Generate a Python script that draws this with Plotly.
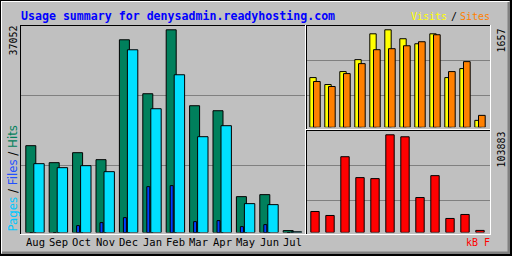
import plotly.graph_objects as go

# ---------------- data ----------------
months = ["Aug", "Sep", "Oct", "Nov", "Dec", "Jan", "Feb", "Mar", "Apr", "May", "Jun", "Jul"]
hits   = [15880, 12777, 14602, 13324, 35227, 25370, 37052, 23180, 22268, 6571, 6936, 365]
files  = [12594, 11864, 12229, 11134, 33402, 22633, 28839, 17522, 19530, 5293, 5111, 150]
pages  = [0, 0, 1278, 1825, 2738, 8396, 8579, 2008, 2190, 1095, 1460, 0]
visits = [845, 727, 947, 1150, 1589, 1657, 1505, 1420, 1589, 845, 998, 118]
sites  = [778, 693, 913, 1082, 1319, 1336, 1386, 1454, 1573, 947, 1116, 203]
kbytes = [22261, 18021, 80563, 58302, 57242, 103883, 101763, 37101, 60422, 14841, 19081, 2120]

title_text = "Usage summary for denysadmin.readyhosting.com"
max_hits_label = "37052"
max_visits_label = "1657"
max_kb_label = "103883"

# ---------------- colours ----------------
BG = "#C0C0C0"
DKGRAY = "#808080"
GRID = "#808080"
C_HITS = "#00805C"
C_FILES = "#00E0FF"
C_PAGES = "#0040FF"
C_VISITS = "#FFFF00"
C_SITES = "#FF8000"
C_KB = "#FF0000"

W, H = 512, 256
X = lambda px: px / W
Y = lambda py: 1 - py / H
idx = list(range(len(months)))

# ---------------- geometry (pixels) ----------------
main_step, main_c0, main_dom = 23.4, 35.0, (20.5, 305.0)
side_step, side_c0, side_dom = 15.0, 315.0, (306.5, 490.0)

def xrange_for(step, c0, dom):
    a = -(c0 - dom[0]) / step
    return [a, a + (dom[1] - dom[0]) / step]

def yrange_for(maxval, base_px, top_px, dom_top_px):
    return [0, maxval * (base_px - dom_top_px) / (base_px - top_px)]

main_base, main_top, main_dtop = 232.6, 29.8, 26.0
tr_base, tr_top, tr_dtop = 127.3, 29.8, 26.0
br_base, br_top, br_dtop = 232.4, 134.8, 131.0

fig = go.Figure()

def add_bar(vals, color, left_px, right_px, step, xa, ya):
    fig.add_trace(go.Bar(
        x=idx, y=vals, xaxis=xa, yaxis=ya,
        offset=left_px / step, width=(right_px - left_px) / step,
        marker=dict(color=color, line=dict(color="black", width=1)),
        hoverinfo="skip", showlegend=False))

# main panel: hits, files, pages
add_bar(hits, C_HITS, -9.2, 0.8, main_step, "x", "y")
add_bar(files, C_FILES, -1.2, 9.2, main_step, "x", "y")
add_bar(pages, C_PAGES, -5.2, -2.2, main_step, "x", "y")
# top right: visits, sites
add_bar(visits, C_VISITS, -5.2, 1.2, side_step, "x2", "y2")
add_bar(sites, C_SITES, -1.5, 5.2, side_step, "x2", "y2")
# bottom right: kbytes
add_bar(kbytes, C_KB, -4.2, 4.2, side_step, "x3", "y3")

hidden = dict(visible=False, fixedrange=True)

# ---------------- decoration shapes ----------------
shapes = []
def hline(row, x0, x1, color, layer="above"):
    shapes.append(dict(type="line", xref="paper", yref="paper", x0=X(x0), x1=X(x1),
                       y0=Y(row + 0.5), y1=Y(row + 0.5), line=dict(color=color, width=1), layer=layer))
def vline(col, y0, y1, color, layer="above"):
    shapes.append(dict(type="line", xref="paper", yref="paper", x0=X(col + 0.5), x1=X(col + 0.5),
                       y0=Y(y0), y1=Y(y1), line=dict(color=color, width=1), layer=layer))
def rect(x0, y0, x1, y1, color, layer="above"):
    shapes.append(dict(type="rect", xref="paper", yref="paper", x0=X(x0), x1=X(x1),
                       y0=Y(y1), y1=Y(y0), fillcolor=color, line=dict(width=0), layer=layer))

# outer frame
rect(507.5, 2, 512, 256, DKGRAY)
rect(2, 251.5, 512, 256, DKGRAY)
rect(510, 0, 512, 256, "black")
rect(0, 254, 512, 256, "black")
hline(0, 0, 512, "black")
vline(0, 0, 256, "black")
hline(1, 1, 509, "white")
vline(1, 1, 253, "white")

# gridlines
for r in (95, 165):
    hline(r, 21, 305, GRID, "below")
for r in (60, 95):
    hline(r, 307, 490, GRID, "below")
for r in (165, 200):
    hline(r, 307, 490, GRID, "below")

# panel borders (sunken)
hline(25, 20, 305.5, "black"); vline(20, 25, 235, "black")
hline(234, 20, 306, "white"); vline(305, 25, 235, "white")
hline(25, 306, 490.5, "black"); vline(306, 25, 130, "black")
hline(129, 306, 491, "white"); vline(490, 25, 130, "white")
hline(130, 306, 490.5, "black"); vline(306, 130, 235, "black")
hline(234, 306, 491, "white"); vline(490, 130, 235, "white")

# ---------------- texts ----------------
MONO = "DejaVu Sans Mono"
ann = []
ann.append(dict(text="<b>" + title_text + "</b>", xref="paper", yref="paper",
                x=X(19.5), y=Y(15.5), xanchor="left", yanchor="middle", showarrow=False,
                font=dict(family=MONO, size=11.6, color="#0000FF"), borderpad=0))
ann.append(dict(text="Sites", xref="paper", yref="paper", x=X(490.5), y=Y(16.5),
                xanchor="right", yanchor="middle", showarrow=False,
                font=dict(family=MONO, size=10, color=C_SITES), borderpad=0))
ann.append(dict(text="/", xref="paper", yref="paper", x=X(453.5), y=Y(16.5),
                xanchor="center", yanchor="middle", showarrow=False,
                font=dict(family=MONO, size=10, color="black"), borderpad=0))
ann.append(dict(text="Visits", xref="paper", yref="paper", x=X(448), y=Y(16.5),
                xanchor="right", yanchor="middle", showarrow=False,
                font=dict(family=MONO, size=10, color=C_VISITS), borderpad=0))
ann.append(dict(text="kB F", xref="paper", yref="paper", x=X(490.5), y=Y(242.7),
                xanchor="right", yanchor="middle", showarrow=False,
                font=dict(family=MONO, size=10, color=C_KB), borderpad=0))
for i, m in enumerate(months):
    ann.append(dict(text=m, xref="x", yref="paper", x=i, y=Y(242.0),
                    xanchor="center", yanchor="middle", showarrow=False,
                    font=dict(family=MONO, size=10.5, color="black"), borderpad=0))
# rotated labels
ann.append(dict(text=max_hits_label, xref="paper", yref="paper", x=X(12.5), y=Y(25),
                xanchor="center", yanchor="top", textangle=-90, showarrow=False,
                font=dict(family=MONO, size=10, color="black"), borderpad=0))
ann.append(dict(text=max_visits_label, xref="paper", yref="paper", x=X(500.5), y=Y(28),
                xanchor="center", yanchor="top", textangle=-90, showarrow=False,
                font=dict(family=MONO, size=10, color="black"), borderpad=0))
ann.append(dict(text=max_kb_label, xref="paper", yref="paper", x=X(500.5), y=Y(131),
                xanchor="center", yanchor="top", textangle=-90, showarrow=False,
                font=dict(family=MONO, size=10, color="black"), borderpad=0))
legend_left = ("<span style='color:#00C8FF'>Pages</span> / "
               "<span style='color:#2050FF'>Files</span> / "
               "<span style='color:%s'>Hits</span>" % C_HITS)
ann.append(dict(text=legend_left, xref="paper", yref="paper", x=X(12.5), y=Y(232.5),
                xanchor="center", yanchor="bottom", textangle=-90, showarrow=False,
                font=dict(family="DejaVu Sans", size=11.8, color="black"), borderpad=0))

fig.update_layout(
    width=W, height=H, margin=dict(l=0, r=0, t=0, b=0),
    paper_bgcolor=BG, plot_bgcolor="rgba(0,0,0,0)",
    barmode="overlay", showlegend=False,
    xaxis=dict(domain=[X(main_dom[0]), X(main_dom[1])], range=xrange_for(main_step, main_c0, main_dom),
               anchor="y", **hidden),
    yaxis=dict(domain=[Y(main_base), Y(main_dtop)], range=yrange_for(max(hits), main_base, main_top, main_dtop),
               anchor="x", **hidden),
    xaxis2=dict(domain=[X(side_dom[0]), X(side_dom[1])], range=xrange_for(side_step, side_c0, side_dom),
                anchor="y2", **hidden),
    yaxis2=dict(domain=[Y(tr_base), Y(tr_dtop)], range=yrange_for(max(visits), tr_base, tr_top, tr_dtop),
                anchor="x2", **hidden),
    xaxis3=dict(domain=[X(side_dom[0]), X(side_dom[1])], range=xrange_for(side_step, side_c0, side_dom),
                anchor="y3", **hidden),
    yaxis3=dict(domain=[Y(br_base), Y(br_dtop)], range=yrange_for(max(kbytes), br_base, br_top, br_dtop),
                anchor="x3", **hidden),
    shapes=shapes, annotations=ann,
)

fig.write_html("out.html", config={"displayModeBar": False})
